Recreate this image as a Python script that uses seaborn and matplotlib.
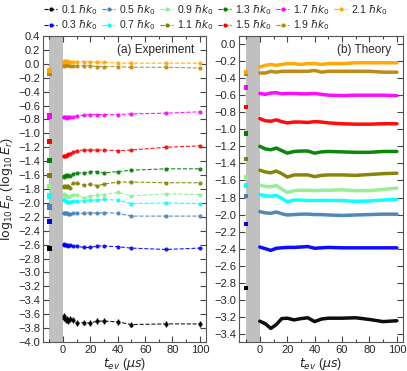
import numpy as np
import pandas as pd
import matplotlib
matplotlib.use("Agg")
import matplotlib.pyplot as plt
from matplotlib.lines import Line2D
import seaborn as sns

# ---------------- data ----------------
momenta = ["0.1", "0.3", "0.5", "0.7", "0.9", "1.1", "1.3", "1.5", "1.7", "1.9", "2.1"]
colors = ["black", "blue", "steelblue", "cyan", "lightgreen", "olive",
          "green", "red", "magenta", "darkgoldenrod", "orange"]

t_exp = [0.5, 1, 2, 3, 4, 5, 7, 10, 15, 20, 25, 30, 40, 50, 75, 100]
exp_01 = [-3.63, -3.66, -3.68, -3.67, -3.70, -3.67, -3.68, -3.73, -3.72, -3.73, -3.70, -3.70, -3.71, -3.75, -3.74, -3.74]
exp_03 = [-2.59, -2.60, -2.61, -2.60, -2.62, -2.61, -2.62, -2.62, -2.64, -2.64, -2.62, -2.62, -2.63, -2.65, -2.67, -2.65]
exp_05 = [-2.14, -2.14, -2.15, -2.15, -2.16, -2.16, -2.15, -2.15, -2.15, -2.14, -2.15, -2.14, -2.15, -2.19, -2.19, -2.19]
exp_07 = [-1.95, -1.96, -1.97, -1.98, -1.99, -1.98, -1.97, -1.97, -1.97, -1.96, -1.96, -1.95, -1.96, -2.01, -2.00, -2.01]
exp_09 = [-1.87, -1.88, -1.89, -1.90, -1.91, -1.90, -1.88, -1.88, -1.93, -1.90, -1.89, -1.88, -1.85, -1.90, -1.87, -1.88]
exp_11 = [-1.77, -1.75, -1.76, -1.77, -1.75, -1.78, -1.72, -1.72, -1.74, -1.73, -1.75, -1.73, -1.70, -1.70, -1.71, -1.71]
exp_13 = [-1.63, -1.61, -1.60, -1.62, -1.60, -1.62, -1.58, -1.57, -1.57, -1.55, -1.55, -1.57, -1.55, -1.53, -1.51, -1.51]
exp_15 = [-1.33, -1.32, -1.32, -1.31, -1.30, -1.29, -1.27, -1.25, -1.24, -1.24, -1.24, -1.24, -1.25, -1.24, -1.20, -1.18]
exp_17 = [-0.76, -0.77, -0.77, -0.78, -0.77, -0.76, -0.76, -0.75, -0.74, -0.73, -0.73, -0.73, -0.73, -0.72, -0.71, -0.69]
exp_19 = [-0.03, -0.02, -0.02, -0.02, -0.02, -0.03, -0.03, -0.03, -0.03, -0.03, -0.04, -0.04, -0.04, -0.05, -0.05, -0.06]
exp_21 = [0.03, 0.04, 0.04, 0.04, 0.03, 0.03, 0.03, 0.03, 0.03, 0.03, 0.02, 0.02, 0.01, 0.01, 0.01, 0.01]
exp_err_01 = 0.04
exp_init = [-2.66, -2.27, -2.06, -1.90, -1.76, -1.61, -1.39, -1.12, -0.75, -0.14, -0.10]

t_th = [0, 4, 8, 12, 16, 20, 25, 30, 35, 40, 45, 50, 60, 70, 80, 90, 100]
th_01 = [-3.25, -3.28, -3.335, -3.29, -3.22, -3.215, -3.235, -3.22, -3.21, -3.255, -3.225, -3.215, -3.215, -3.21, -3.23, -3.255, -3.245]
th_03 = [-2.38, -2.40, -2.42, -2.395, -2.39, -2.385, -2.385, -2.38, -2.375, -2.395, -2.39, -2.385, -2.39, -2.39, -2.39, -2.39, -2.39]
th_05 = [-1.965, -1.98, -1.985, -1.97, -1.99, -2.005, -2.0, -1.995, -1.995, -2.0, -2.0, -2.005, -2.01, -2.005, -2.0, -1.995, -1.995]
th_07 = [-1.765, -1.78, -1.785, -1.775, -1.81, -1.85, -1.83, -1.83, -1.835, -1.835, -1.835, -1.835, -1.835, -1.845, -1.84, -1.83, -1.82]
th_09 = [-1.655, -1.67, -1.675, -1.66, -1.70, -1.74, -1.72, -1.715, -1.715, -1.72, -1.715, -1.715, -1.71, -1.72, -1.72, -1.705, -1.69]
th_11 = [-1.48, -1.50, -1.51, -1.49, -1.52, -1.56, -1.535, -1.535, -1.535, -1.555, -1.54, -1.535, -1.535, -1.54, -1.53, -1.52, -1.515]
th_13 = [-1.20, -1.23, -1.24, -1.22, -1.25, -1.28, -1.26, -1.255, -1.255, -1.28, -1.265, -1.26, -1.265, -1.27, -1.27, -1.26, -1.26]
th_15 = [-0.875, -0.90, -0.905, -0.89, -0.91, -0.925, -0.915, -0.915, -0.92, -0.91, -0.915, -0.925, -0.935, -0.94, -0.94, -0.935, -0.935]
th_17 = [-0.58, -0.59, -0.575, -0.57, -0.585, -0.58, -0.58, -0.585, -0.585, -0.58, -0.59, -0.60, -0.605, -0.60, -0.60, -0.60, -0.605]
th_19 = [-0.34, -0.34, -0.32, -0.33, -0.32, -0.32, -0.32, -0.32, -0.32, -0.31, -0.33, -0.32, -0.32, -0.32, -0.32, -0.33, -0.33]
th_21 = [-0.27, -0.25, -0.24, -0.25, -0.24, -0.23, -0.23, -0.24, -0.23, -0.23, -0.24, -0.23, -0.23, -0.22, -0.22, -0.22, -0.22]
th_init = [-2.86, -2.11, -1.78, -1.66, -1.56, -1.35, -1.05, -0.74, -0.51, -0.35, -0.33]

t_init = -10

exp_series = [exp_01, exp_03, exp_05, exp_07, exp_09, exp_11, exp_13, exp_15, exp_17, exp_19, exp_21]
th_series = [th_01, th_03, th_05, th_07, th_09, th_11, th_13, th_15, th_17, th_19, th_21]

# ---------------- style ----------------
sns.set_style("ticks")
plt.rcParams["font.family"] = ["Liberation Sans", "DejaVu Sans"]
plt.rcParams["mathtext.fontset"] = "dejavusans"
plt.rcParams["xtick.direction"] = "in"
plt.rcParams["ytick.direction"] = "in"

fig = plt.figure(figsize=(4.07, 3.71), dpi=100)
axL = fig.add_axes([0.1057, 0.0782, 0.4005, 0.8248])
axR = fig.add_axes([0.5872, 0.0782, 0.4030, 0.8248])

for ax in (axL, axR):
    ax.axvspan(-10, 0, color="#c0c0c0", lw=0, zorder=0)

# experiment
for lab, c, ys, y0 in zip(momenta, colors, exp_series, exp_init):
    df = pd.DataFrame({"t": t_exp, "v": ys})
    sns.lineplot(data=df, x="t", y="v", ax=axL, color=c, marker="o", markersize=3,
                 markeredgewidth=0, linestyle="--", linewidth=0.8, alpha=0.9)
    sns.scatterplot(x=[t_init], y=[y0], ax=axL, color=c, marker="s", s=14,
                    edgecolor="none", zorder=5)
axL.errorbar(t_exp, exp_01, yerr=exp_err_01, fmt="none", ecolor="black",
             elinewidth=1.0, capsize=0, zorder=4)

# theory
for lab, c, ys, y0 in zip(momenta, colors, th_series, th_init):
    df = pd.DataFrame({"t": t_th, "v": ys})
    sns.lineplot(data=df, x="t", y="v", ax=axR, color=c, linewidth=2.5, alpha=0.95)
    sns.scatterplot(x=[t_init], y=[y0], ax=axR, color=c, marker="s", s=10,
                    edgecolor="none", zorder=5)

# axes formatting
axL.set_xlim(-14.6, 104.5)
axL.set_ylim(-4.0, 0.4)
axL.set_yticks(np.round(np.arange(-4.0, 0.41, 0.2), 1))
axR.set_xlim(-15.2, 104.5)
axR.set_ylim(-3.494, 0.094)
axR.set_yticks(np.round(np.arange(-3.4, 0.01, 0.2), 1))

for ax in (axL, axR):
    ax.set_xticks([0, 20, 40, 60, 80, 100])
    ax.set_xticks([-10, 10, 30, 50, 70, 90], minor=True)
    ax.yaxis.set_major_formatter(matplotlib.ticker.FuncFormatter(
        lambda v, p: f"{v:.1f}".replace("-", "\u2212")))
    ax.tick_params(which="both", top=True, right=True, labelsize=8, pad=2,
                   color="#444444")
    ax.tick_params(which="major", length=4, width=0.8)
    ax.tick_params(which="minor", length=2.5, width=0.8)
    for s in ax.spines.values():
        s.set_color("#555555")
        s.set_linewidth(0.8)
    ax.set_xlabel(r"$t_{ev}$ ($\mu s$)", fontsize=9, labelpad=1)
    ax.set_ylabel("")
    if ax.get_legend():
        ax.get_legend().remove()

axL.set_ylabel(r"$\log_{10}E_p$ ($\log_{10}E_r$)", fontsize=9, labelpad=1)
axL.text(0.93, 0.975, "(a) Experiment", transform=axL.transAxes, ha="right",
         va="top", fontsize=8.5)
axR.text(0.93, 0.975, "(b) Theory", transform=axR.transAxes, ha="right",
         va="top", fontsize=8.5)

handles = [Line2D([], [], color=c, marker="o", markersize=3, markeredgewidth=0,
                  linestyle="--", linewidth=0.8) for c in colors]
labels = [rf"{m} $\hbar k_0$" for m in momenta]
fig.legend(handles, labels, loc="upper left", bbox_to_anchor=(0.09, 1.012),
           ncol=6, frameon=False, fontsize=7.5, handlelength=1.3,
           handletextpad=0.3, columnspacing=0.45, labelspacing=0.15,
           borderpad=0.2)

fig.savefig("out.png", dpi=100)
